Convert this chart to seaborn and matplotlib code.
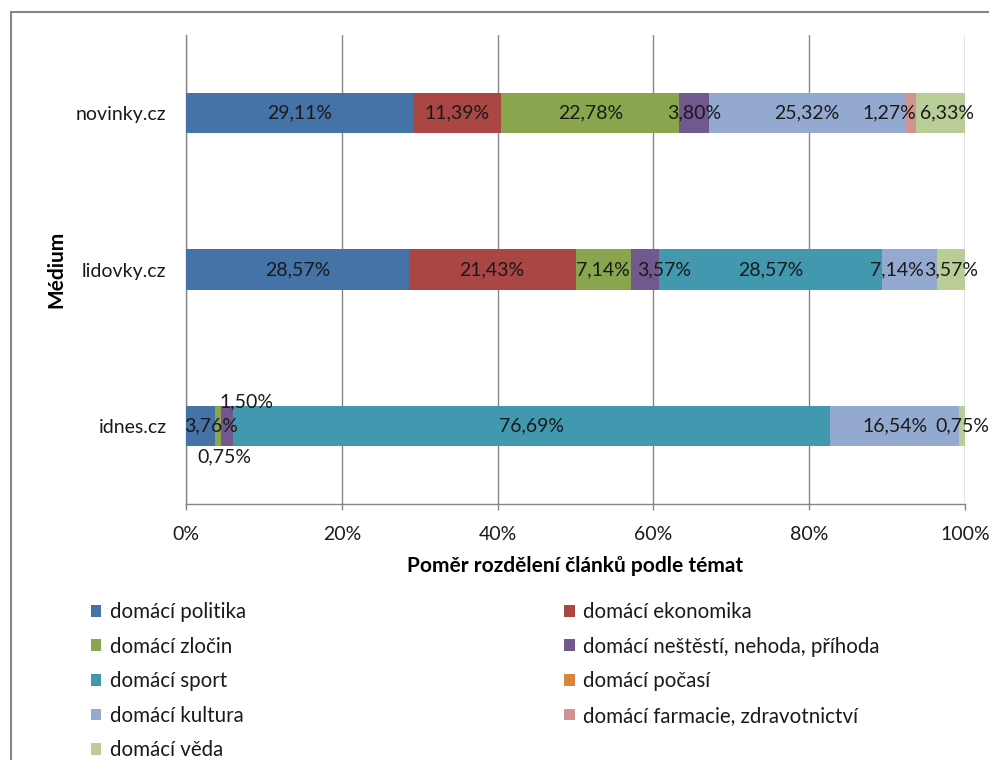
import matplotlib
matplotlib.use("Agg")
import matplotlib.pyplot as plt
import matplotlib.patches as mpatches
from matplotlib.ticker import FuncFormatter
import seaborn as sns
import pandas as pd
import numpy as np

# ---- data ----
media = ["novinky.cz", "lidovky.cz", "idnes.cz"]
series_names = ["domácí politika", "domácí ekonomika", "domácí zločin",
                "domácí neštěstí, nehoda, příhoda", "domácí sport", "domácí počasí",
                "domácí kultura", "domácí farmacie, zdravotnictví", "domácí věda"]
politika = [29.11, 28.57, 3.76]
ekonomika = [11.39, 21.43, 0.0]
zlocin = [22.78, 7.14, 0.75]
nestesti = [3.80, 3.57, 1.50]
sport = [0.0, 28.57, 76.69]
pocasi = [0.0, 0.0, 0.0]
kultura = [25.32, 7.14, 16.54]
farmacie = [1.27, 0.0, 0.0]
veda = [6.33, 3.57, 0.75]
x_ticks = [0, 20, 40, 60, 80, 100]

values = [politika, ekonomika, zlocin, nestesti, sport, pocasi, kultura, farmacie, veda]
colors = ["#4572A7", "#AA4643", "#89A54E", "#71588F", "#4198AF",
          "#DB843D", "#93A9CF", "#D19392", "#B9CD96"]

# label offsets in pixels (dx, dy) to mimic Excel's collision handling
label_offsets = {
    ("idnes.cz", 0): (10, 0),
    ("idnes.cz", 2): (6, 31),
    ("idnes.cz", 3): (19, -24),
    ("novinky.cz", 7): (-21, 0),
    ("novinky.cz", 8): (7, 0),
    ("lidovky.cz", 3): (19, 0),
    ("lidovky.cz", 6): (-12, 0),
}

sns.set_theme(style="white")
plt.rcParams["font.family"] = ["Lato", "DejaVu Sans"]
FS = 14
TXT = "#1a1a1a"

W, H = 989, 760
fig = plt.figure(figsize=(W / 100, H / 100), dpi=100)
ax = fig.add_axes([186 / W, 1 - 504 / H, (965 - 186) / W, (504 - 35) / H])

arr = np.array(values)  # series x media
totals = arr.sum(axis=0)
pct = arr / totals * 100
cum = np.cumsum(pct, axis=0)

# draw cumulative bars from the last series to the first (stacked effect)
for i in reversed(range(len(values))):
    df = pd.DataFrame({"medium": media, "x": cum[i]})
    sns.barplot(data=df, x="x", y="medium", order=media, orient="h",
                color=colors[i], saturation=1, width=0.256, ax=ax,
                linewidth=0, zorder=3)

ax.set_xlim(0, 100)
ax.set_ylim(2.5, -0.5)

# data labels
px_to_data = 100 / (965 - 186)
py_to_data = 3 / (504 - 35)
for j, m in enumerate(media):
    for i in range(len(values)):
        v = values[i][j]
        if v <= 0:
            continue
        center = cum[i][j] - pct[i][j] / 2
        dx, dy = label_offsets.get((m, i), (0, 0))
        ax.text(center + dx * px_to_data, j + dy * py_to_data,
                f"{v:.2f}%".replace(".", ","), ha="center", va="center",
                fontsize=FS, color=TXT, zorder=5, clip_on=False)

# grid and axes styling
grid_c = "#868686"
for t in x_ticks:
    ax.axvline(t, color=grid_c, lw=1, zorder=1)
for s in ["top", "right"]:
    ax.spines[s].set_visible(False)
for s in ["left", "bottom"]:
    ax.spines[s].set_visible(True)
    ax.spines[s].set_color(grid_c)
    ax.spines[s].set_linewidth(1)
ax.set_xticks(x_ticks)
ax.xaxis.set_major_formatter(FuncFormatter(lambda v, p: f"{int(v)}%"))
ax.tick_params(axis="x", bottom=True, length=4, width=1, color=grid_c,
               labelsize=FS, labelcolor=TXT, pad=12)
ax.tick_params(axis="y", left=False, length=0, labelsize=FS, labelcolor=TXT, pad=14)
ax.set_xlabel("Poměr rozdělení článků podle témat", fontsize=15,
              fontweight="bold", color="black", labelpad=9)
ax.set_ylabel("Médium", fontsize=15, fontweight="bold", color="black", labelpad=7)
ax.grid(False)

# legend (column-major order to match Excel's row-wise layout)
order = [0, 2, 4, 6, 8, 1, 3, 5, 7]
handles = [mpatches.Patch(facecolor=colors[k], edgecolor="none") for k in order]
labels = [series_names[k] for k in order]
fig.legend(handles, labels, loc="upper left",
           bbox_to_anchor=(91 / W, 1 - 602 / H), ncol=2, frameon=False,
           fontsize=14.8, handlelength=0.5, handleheight=0.5, handletextpad=0.4,
           labelspacing=0.71, columnspacing=15.5, borderpad=0, borderaxespad=0,
           labelcolor=TXT)

# outer chart border
fig.patches.append(mpatches.Rectangle((11 / W, -0.1), 1.2, 1.1 - 12 / H,
                                      transform=fig.transFigure, fill=False,
                                      edgecolor=grid_c, linewidth=1.5))

fig.savefig("out.png", dpi=100)
